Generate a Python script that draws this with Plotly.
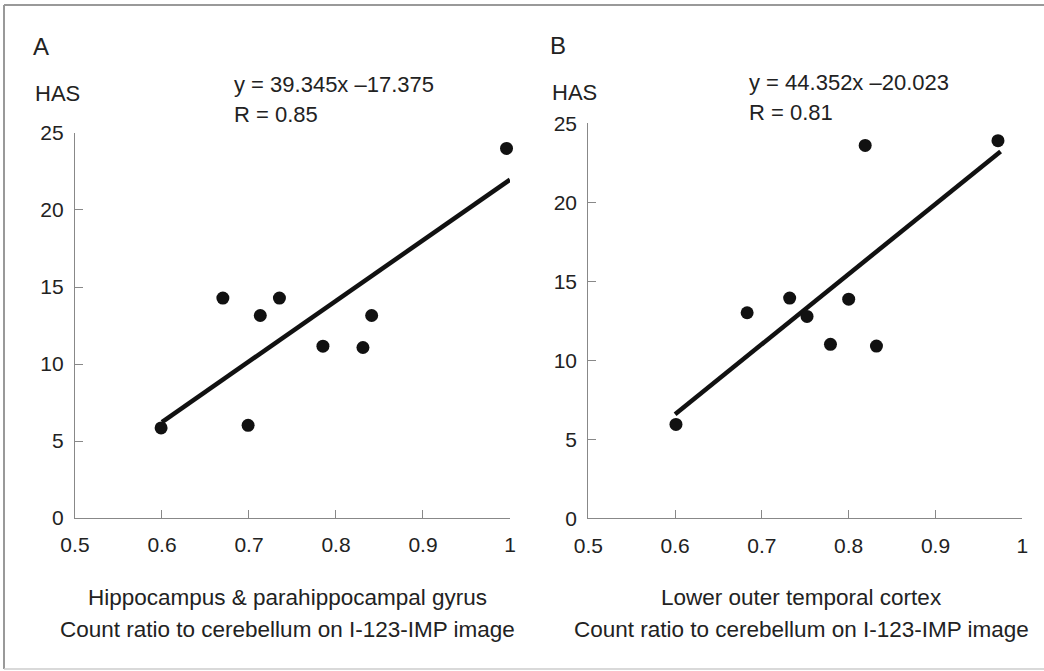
import plotly.graph_objects as go

# ---- data ----
a_x = [0.599, 0.670, 0.713, 0.735, 0.699, 0.785, 0.831, 0.841, 0.996]
a_y = [5.85, 14.28, 13.15, 14.28, 6.02, 11.16, 11.07, 13.15, 24.0]
a_slope, a_intercept = 39.345, -17.375
a_fit_x = [0.6, 1.0]

b_x = [0.601, 0.683, 0.732, 0.752, 0.779, 0.800, 0.832, 0.819, 0.972]
b_y = [5.94, 13.01, 13.94, 12.78, 11.01, 13.87, 10.90, 23.6, 23.9]
b_slope, b_intercept = 44.352, -20.023
b_fit_x = [0.6, 0.975]

x_ticks = [0.5, 0.6, 0.7, 0.8, 0.9, 1.0]
x_ticklabels = ["0.5", "0.6", "0.7", "0.8", "0.9", "1"]
y_ticks = [0, 5, 10, 15, 20, 25]

FONT = "Liberation Sans, Arial, Helvetica, sans-serif"
TXT = "#222222"

fig = go.Figure()

for (xs, ys, sl, ic, fx, xa, ya) in [
    (a_x, a_y, a_slope, a_intercept, a_fit_x, "x", "y"),
    (b_x, b_y, b_slope, b_intercept, b_fit_x, "x2", "y2"),
]:
    fy = [sl * v + ic for v in fx]
    fig.add_trace(go.Scatter(x=fx, y=fy, mode="lines", xaxis=xa, yaxis=ya,
                             line=dict(color="#111111", width=4.5),
                             showlegend=False, hoverinfo="skip", cliponaxis=False))
    fig.add_trace(go.Scatter(x=xs, y=ys, mode="markers", xaxis=xa, yaxis=ya,
                             marker=dict(color="#111111", size=13),
                             showlegend=False, cliponaxis=False))

axis_common = dict(showgrid=False, zeroline=False, showline=True, linecolor="#888888",
                   linewidth=1.2, ticks="inside", ticklen=8, tickcolor="#888888",
                   tickwidth=1.2, automargin=False,
                   tickfont=dict(family=FONT, size=21, color=TXT))

fig.update_layout(
    width=1044, height=671,
    margin=dict(l=0, r=0, t=0, b=0),
    paper_bgcolor="white", plot_bgcolor="white",
    xaxis=dict(domain=[0.0718, 0.4885], range=[0.5, 1.0], tickvals=x_ticks,
               ticktext=x_ticklabels, anchor="y", ticklabelstandoff=8, **axis_common),
    yaxis=dict(domain=[0.228, 0.8018], range=[0, 25], tickvals=y_ticks,
               anchor="x", ticklabelstandoff=6, **axis_common),
    xaxis2=dict(domain=[0.5635, 0.9792], range=[0.5, 1.0], tickvals=x_ticks,
                ticktext=x_ticklabels, anchor="y2", ticklabelstandoff=8, **axis_common),
    yaxis2=dict(domain=[0.2276, 0.8162], range=[0, 25], tickvals=y_ticks,
                anchor="x2", ticklabelstandoff=6, **axis_common),
)

def ann(text, x, y, size=22, xanchor="left"):
    fig.add_annotation(text=text, x=x / 1044, y=1 - y / 671, xref="paper", yref="paper",
                       showarrow=False, xanchor=xanchor, yanchor="middle",
                       font=dict(family=FONT, size=size, color=TXT))

ann("A", 31, 47, size=24)
ann("HAS", 33, 93)
ann("y = 39.345x \u201317.375", 232, 84)
ann("R = 0.85", 232, 114)
ann("Hippocampus & parahippocampal gyrus", 287, 597, size=22.5, xanchor="center")
ann("Count ratio to cerebellum on I-123-IMP image", 287, 629, size=22.5, xanchor="center")

ann("B", 548, 45, size=24)
ann("HAS", 550, 92)
ann("y = 44.352x \u201320.023", 747, 83)
ann("R = 0.81", 747, 113)
ann("Lower outer temporal cortex", 801, 597, size=22.5, xanchor="center")
ann("Count ratio to cerebellum on I-123-IMP image", 801, 629, size=22.5, xanchor="center")

# outer frame (top, left, bottom)
for x0, y0, x1, y1, col, w in [
    (4, 5, 1044, 5, "#999999", 2),
    (4, 5, 4, 669, "#999999", 2),
    (4, 669, 1044, 669, "#cccccc", 1.5),
]:
    fig.add_shape(type="line", xref="paper", yref="paper",
                  x0=x0 / 1044, x1=x1 / 1044, y0=1 - y0 / 671, y1=1 - y1 / 671,
                  line=dict(color=col, width=w))

fig.write_html("out.html",
               config={"displayModeBar": False},
               post_script="document.body.style.margin='0';document.body.style.overflow='hidden';")
